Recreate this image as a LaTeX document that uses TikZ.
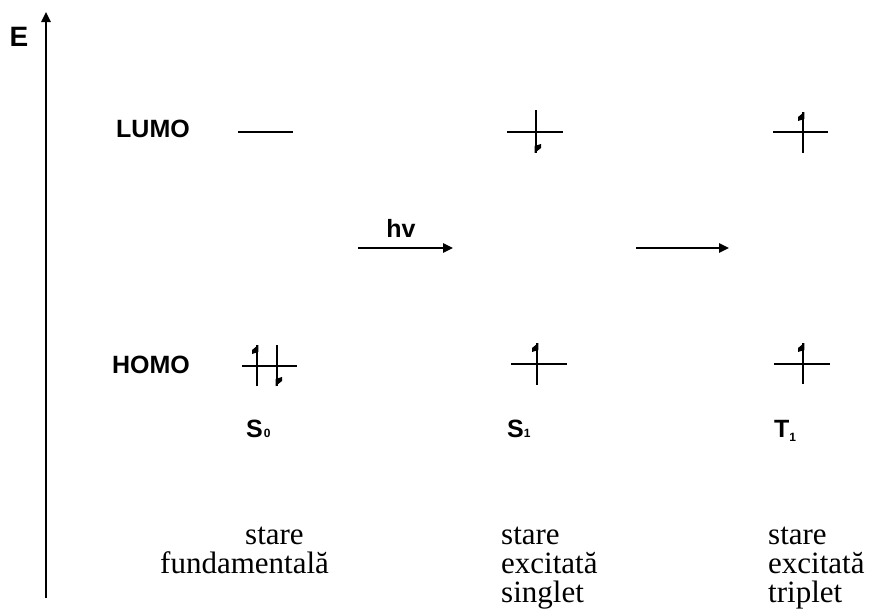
\documentclass[tikz,border=0pt]{standalone}
\usepackage{fontspec}
\setmainfont{Liberation Serif}
\newfontfamily\labfont{Liberation Sans}
\usetikzlibrary{arrows.meta}
\tikzset{
  lab/.style={font=\labfont\bfseries\fontsize{25}{28}\selectfont, inner sep=0pt},
  state/.style={font=\labfont\bfseries\fontsize{25}{28}\selectfont, inner sep=0pt, anchor=base west},
  txt/.style={font=\fontsize{31}{31}\selectfont, inner sep=0pt, anchor=base west},
  level/.style={line width=2.6pt},
  spin/.style={line width=2.6pt},
  conn/.style={line width=2.4pt, -{Triangle[length=10pt,width=9pt]}},
}
\newcommand\spinup[3]{% x, ytop, ybottom
  \draw[spin] (#1,#2) -- (#1,#3);
  \fill (#1+1.3,#2) -- (#1-5,#2+5) -- (#1-5,#2+9) -- (#1+1.3,#2+7) -- cycle;
}
\newcommand\spindown[3]{%
  \draw[spin] (#1,#2) -- (#1,#3);
  \fill (#1-1.3,#3) -- (#1+5,#3-5) -- (#1+5,#3-9) -- (#1-1.3,#3-7) -- cycle;
}
\begin{document}
\begin{tikzpicture}[x=1pt,y=-1pt]
\useasboundingbox (0,0) rectangle (893,608);
% axis
\coordinate (axb) at (46,598);
\coordinate (axt) at (46,12);
\draw[conn] (axb) -- (axt);
\node[lab, font=\labfont\bfseries\fontsize{28}{30}\selectfont] (E) at (19,37) {E};
% labels
\node[lab, anchor=east] (lumo) at (190,129) {LUMO};
\node[lab, anchor=east] (homo) at (190,365) {HOMO};
% S0
\draw[level] (238,132) -- (293,132);
\draw[level] (242,366) -- (297,366);
\spinup{257}{345}{386}
\spindown{277}{345}{386}
% S1
\draw[level] (507,132) -- (563,132);
\spindown{536}{110}{153}
\draw[level] (511,364) -- (567,364);
\spinup{537}{343}{385}
% T1
\draw[level] (773,132) -- (828,132);
\spinup{803}{112}{153}
\draw[level] (774,364) -- (830,364);
\spinup{803}{343}{384}
% arrows
\coordinate (a1s) at (358,248);
\coordinate (a1e) at (453,248);
\coordinate (a2s) at (636,248);
\coordinate (a2e) at (729,248);
\draw[conn] (a1s) -- (a1e);
\draw[conn] (a2s) -- (a2e);
\node[lab] (hv) at (401,228) {hv};
% state labels
\node[state] (s0) at (246,437) {S\hspace{1pt}\raisebox{0pt}{\fontsize{12}{13}\selectfont 0}};
\node[state] (s1) at (507,437) {S\raisebox{0pt}{\fontsize{12}{13}\selectfont 1}};
\node[state] (t1) at (774,437) {T\raisebox{-4pt}{\fontsize{12}{13}\selectfont 1}};
% descriptions
\node[txt] (d1a) at (245,544) {stare};
\node[txt] (d1b) at (160,573) {fundamentală};
\node[txt] (d2a) at (501,544) {stare};
\node[txt] (d2b) at (501,573) {excitată};
\node[txt] (d2c) at (501,602) {singlet};
\node[txt] (d3a) at (768,544) {stare};
\node[txt] (d3b) at (768,573) {excitată};
\node[txt] (d3c) at (768,602) {triplet};
\end{tikzpicture}
\end{document}
